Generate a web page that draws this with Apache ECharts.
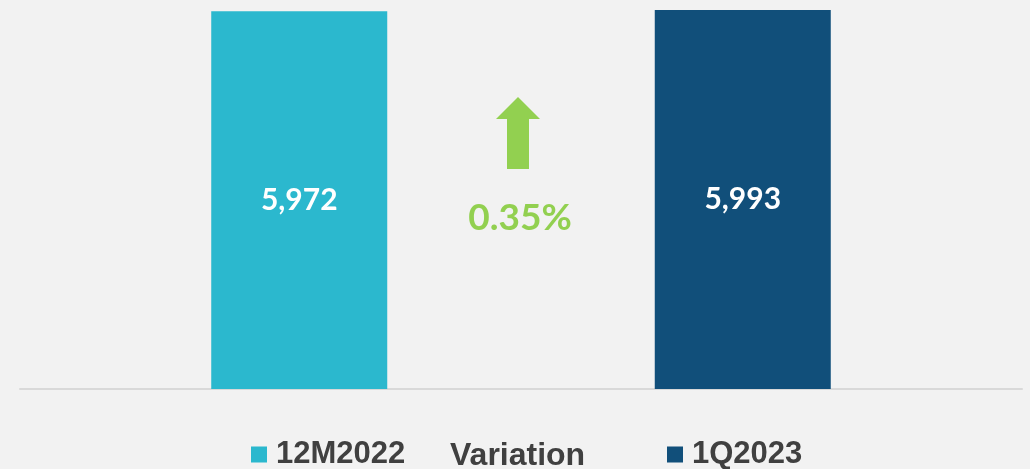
<!DOCTYPE html>
<html>
<head>
<meta charset="utf-8">
<title>12M2022 vs 1Q2023</title>
<script src="https://cdn.jsdelivr.net/npm/echarts@6/dist/echarts.min.js"></script>
<style>
  html, body { margin: 0; padding: 0; background: #f2f2f2; }
  #chart { width: 1030px; height: 469px; }
</style>
</head>
<body>
<div id="chart"></div>
<script>
  // 数据
  const categories = ['Total']
  const seriesNames = ['12M2022', '1Q2023']
  const values12M2022 = [5972]
  const values1Q2023 = [5993]
  const variationLabel = 'Variation'
  const variationPct = [0.35]

  const legendFont = {
    fontFamily: '"Liberation Sans", Arial, sans-serif',
    fontWeight: 'bold',
    fontSize: 31,
    color: '#404040',
    padding: [0, 0, 0, 4]
  }

  const formatValue = v => Number(v).toLocaleString('en-US')

  const barLabel = {
    show: true,
    position: 'inside',
    color: '#ffffff',
    fontFamily: 'Lato, sans-serif',
    fontWeight: 'bold',
    fontSize: 30,
    formatter: p => formatValue(p.value)
  }

  // 图例公共配置
  const legendBase = {
    padding: 0,
    icon: 'rect',
    itemWidth: 16,
    itemHeight: 16,
    textStyle: legendFont,
    selectedMode: false
  }

  const chart = echarts.init(document.getElementById('chart'))
  chart.setOption({
    backgroundColor: '#f2f2f2',
    animation: false,
    grid: { left: 20, right: 8, top: 0, bottom: 80 },
    xAxis: {
      type: 'category',
      data: categories,
      axisLine: { show: true, lineStyle: { color: '#d9d9d9', width: 2 } },
      axisTick: { show: false },
      axisLabel: { show: false }
    },
    yAxis: {
      type: 'value',
      min: 0,
      max: 6150,
      show: false
    },
    legend: [
      { ...legendBase, data: [seriesNames[0]], left: 251, top: 439 },
      {
        ...legendBase,
        data: [variationLabel],
        left: 444,
        top: 440,
        itemWidth: 0,
        itemStyle: { color: 'transparent' },
        textStyle: { ...legendFont, fontSize: 32, padding: [0, 0, 0, 1] }
      },
      { ...legendBase, data: [seriesNames[1]], left: 667, top: 439 }
    ],
    series: [
      {
        name: seriesNames[0],
        type: 'bar',
        data: values12M2022,
        barWidth: 176,
        barGap: '152%',
        itemStyle: { color: '#2bb8ce' },
        label: barLabel
      },
      {
        name: seriesNames[1],
        type: 'bar',
        data: values1Q2023,
        barWidth: 176,
        itemStyle: { color: '#114f7a' },
        label: barLabel
      },
      {
        // 仅用于图例
        name: variationLabel,
        type: 'scatter',
        data: [],
        itemStyle: { color: 'transparent' }
      }
    ],
    graphic: [
      {
        type: 'polygon',
        shape: {
          points: [[518, 97], [540, 119], [529, 119], [529, 169], [507, 169], [507, 119], [496, 119]]
        },
        style: { fill: '#92d050' }
      },
      {
        type: 'text',
        x: 520,
        y: 218,
        style: {
          text: variationPct[0].toFixed(2) + '%',
          fill: '#92d050',
          font: 'bold 37px Lato, sans-serif',
          textAlign: 'center',
          textVerticalAlign: 'middle'
        }
      }
    ]
  })
</script>
</body>
</html>
